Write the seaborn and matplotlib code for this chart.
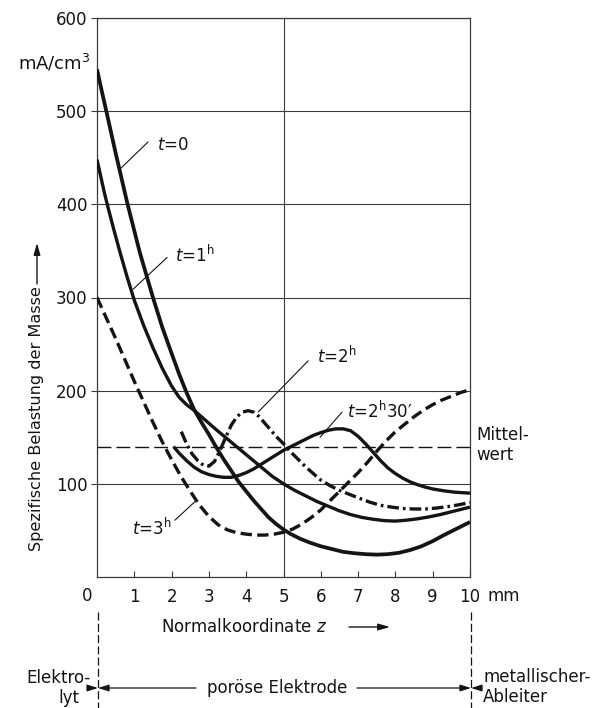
import matplotlib
matplotlib.use("Agg")
import matplotlib.pyplot as plt
from matplotlib.lines import Line2D
from matplotlib.patches import FancyArrowPatch
import seaborn as sns

# ---------------- data ----------------
z_t0 = [0.0, 0.12, 0.25, 0.5, 0.82, 1.15, 1.5, 1.75, 2.0, 2.2, 2.4, 2.6, 2.8, 3.0,
        3.2, 3.4, 3.6, 3.8, 4.0, 4.2, 4.4, 4.6, 4.8, 5.0, 5.2, 5.45, 5.7, 6.0,
        6.3, 6.6, 6.9, 7.2, 7.5, 7.8, 8.1, 8.4, 8.7, 9.0, 9.3, 9.6, 10.0]
y_t0 = [545, 523, 500, 455, 400, 348, 300, 268, 240, 218, 198, 180, 166, 153,
        139, 126, 114, 102, 92, 82, 73, 64, 57, 51, 46, 41, 37, 33,
        30, 27, 25.5, 24.5, 24, 24.5, 26, 29, 33, 38.5, 45, 51, 59]

z_t1 = [0.0, 0.1, 0.2, 0.3, 0.45, 0.6, 0.8, 1.0, 1.25, 1.5, 1.75, 2.0, 2.2, 2.4,
        2.6, 2.8, 3.0, 3.2, 3.5, 3.8, 4.1, 4.4, 4.7, 5.0, 5.3, 5.6, 5.9, 6.2,
        6.5, 6.8, 7.1, 7.4, 7.7, 8.0, 8.3, 8.6, 8.9, 9.2, 9.5, 9.75, 10.0]
y_t1 = [448, 430, 412, 396, 373, 351, 323, 297, 270, 246, 224, 205, 193, 185,
        179, 172, 165, 158, 148, 138, 128, 118, 108, 100, 93, 87, 81, 76,
        71, 67, 64, 62, 60.5, 60, 61, 62.5, 64.5, 67, 70, 72.5, 75]

z_t2 = [2.26, 2.4, 2.55, 2.7, 2.85, 3.0, 3.15, 3.3, 3.45, 3.6, 3.75, 3.9, 4.05,
        4.2, 4.35, 4.5, 4.65, 4.8, 5.0, 5.2, 5.4, 5.6, 5.8, 6.0, 6.25, 6.5,
        6.75, 7.0, 7.3, 7.6, 7.9, 8.2, 8.5, 8.8, 9.1, 9.4, 9.7, 10.0]
y_t2 = [156, 143, 132, 125, 120, 119, 124, 136, 150, 163, 172, 177, 178.5,
        177, 172, 165, 158, 151, 143, 134, 126, 118, 111, 104, 98, 93,
        89, 85, 80.5, 77, 75, 73.5, 73, 73, 74, 75.5, 77.5, 80]

z_t230 = [2.05, 2.2, 2.4, 2.6, 2.8, 3.0, 3.2, 3.4, 3.6, 3.8, 4.0, 4.2, 4.4, 4.6,
          4.8, 5.0, 5.2, 5.4, 5.6, 5.8, 6.0, 6.2, 6.4, 6.6, 6.8, 7.0, 7.2,
          7.4, 7.6, 7.8, 8.0, 8.2, 8.4, 8.6, 8.8, 9.0, 9.3, 9.6, 10.0]
y_t230 = [140, 133, 125, 118, 113, 110, 108, 107, 107, 109, 112, 116, 121, 126,
          131, 136, 140, 144, 148, 152, 155, 157.5, 159, 159, 157, 151, 143,
          134, 125, 117, 111, 106, 102, 99, 96.5, 94.5, 92.5, 91, 90]

z_t3 = [0.0, 0.25, 0.5, 0.75, 1.0, 1.25, 1.5, 1.75, 2.0, 2.25, 2.5, 2.75, 3.0,
        3.25, 3.5, 3.75, 4.0, 4.25, 4.5, 4.75, 5.0, 5.25, 5.5, 5.75, 6.0, 6.25,
        6.5, 6.75, 7.0, 7.25, 7.5, 7.75, 8.0, 8.25, 8.5, 8.75, 9.0, 9.25, 9.5,
        9.75, 10.0]
y_t3 = [300, 278, 256, 233, 210, 188, 166, 145, 126, 108, 92, 77, 65,
        56, 50.5, 47.5, 46, 45, 45, 46, 48, 51.5, 57, 64, 72, 82,
        92, 102, 112, 123, 135, 146, 156, 164, 172, 179, 185, 190, 194,
        198, 201]

z_mittel = [0.0, 10.0]
y_mittel = [140, 140]

x_ticks = [1, 2, 3, 4, 5, 6, 7, 8, 9, 10]
x_ticklabels = ["1", "2", "3", "4", "5", "6", "7", "8", "9", "10"]
y_ticks = [100, 200, 300, 400, 500, 600]
y_ticklabels = ["100", "200", "300", "400", "500", "600"]

# ---------------- figure ----------------
sns.set_theme(style="white")
plt.rcParams["font.family"] = ["DejaVu Sans"]
plt.rcParams["mathtext.fontset"] = "dejavusans"

W, H = 607, 708
fig = plt.figure(figsize=(W / 100, H / 100), dpi=100)
fig.patch.set_facecolor("white")


def fp(px, py):
    return (px / W, 1 - py / H)


ax_l, ax_r, ax_t, ax_b = 97, 470, 18, 577
ax = fig.add_axes([ax_l / W, 1 - ax_b / H, (ax_r - ax_l) / W, (ax_b - ax_t) / H])

ink = "#141414"
grid_c = "#3a3a3a"

ax.set_xlim(0, 10)
ax.set_ylim(0, 600)

for yv in y_ticks:
    ax.axhline(yv, color=grid_c, lw=0.8, zorder=1)
ax.axvline(5, color=grid_c, lw=0.8, zorder=1)

for s in ax.spines.values():
    s.set_color(grid_c)
    s.set_linewidth(0.9)

common = dict(ax=ax, color=ink, estimator=None, sort=False, legend=False, zorder=3)
sns.lineplot(x=z_mittel, y=y_mittel, lw=1.0, linestyle=(0, (10, 3.6)), **common)
sns.lineplot(x=z_t0, y=y_t0, lw=2.7, solid_capstyle="butt", solid_joinstyle="round", **common)
sns.lineplot(x=z_t1, y=y_t1, lw=2.4, solid_capstyle="butt", solid_joinstyle="round", **common)
sns.lineplot(x=z_t230, y=y_t230, lw=2.4, solid_capstyle="butt", solid_joinstyle="round", **common)
sns.lineplot(x=z_t2, y=y_t2, lw=2.4, linestyle=(0, (3.5, 1.2, 0.8, 1.2)), **common)
sns.lineplot(x=z_t3, y=y_t3, lw=2.4, linestyle=(0, (3.4, 1.6)), **common)

ax.set_xlabel("")
ax.set_ylabel("")
ax.set_xticks(x_ticks)
ax.set_xticklabels(x_ticklabels)
ax.set_yticks(y_ticks)
ax.set_yticklabels(y_ticklabels)
ax.tick_params(axis="x", direction="in", length=4, width=0.8, color=grid_c,
               pad=8, labelsize=12, labelcolor=ink, bottom=True)
ax.tick_params(axis="y", direction="out", length=4, width=0.8, color=grid_c,
               pad=3, labelsize=12, labelcolor=ink, left=True)

# curve labels with leader lines
fs = 12
lead = dict(color=ink, lw=0.8, zorder=4)
ax.plot([0.62, 1.37], [438, 467], **lead)
ax.text(1.61, 464, r"$t$=0", fontsize=fs, ha="left", va="center", color=ink)
ax.plot([0.97, 1.88], [309, 343], **lead)
ax.text(2.09, 345, r"$t$=1$^\mathrm{h}$", fontsize=fs, ha="left", va="center", color=ink)
ax.plot([4.32, 5.66], [177, 232], **lead)
ax.text(5.9, 237, r"$t$=2$^\mathrm{h}$", fontsize=fs, ha="left", va="center", color=ink)
ax.plot([5.98, 6.57], [150, 177], **lead)
ax.text(6.7, 178, r"$t$=2$^\mathrm{h}$30′", fontsize=fs, ha="left", va="center", color=ink)
ax.plot([2.09, 2.63], [61, 81], **lead)
ax.text(2.0, 52, r"$t$=3$^\mathrm{h}$", fontsize=fs, ha="right", va="center", color=ink)

ax.text(10.16, 142, "Mittel-\nwert", fontsize=fs, ha="left", va="center",
        color=ink, linespacing=1.15, clip_on=False)

# axis texts
fig.text(*fp(90, 63), r"mA/cm$^3$", fontsize=13, ha="right", va="center", color=ink)
fig.text(*fp(87, 596), "0", fontsize=12, ha="center", va="center", color=ink)
fig.text(*fp(487, 596), "mm", fontsize=12, ha="left", va="center", color=ink)

fig.text(*fp(37, 419), "Spezifische Belastung der Masse", fontsize=11.6,
         rotation=90, ha="center", va="center", color=ink)
arrow_kw = dict(arrowstyle="-|>,head_length=0.7,head_width=0.2", lw=1.0, color=ink,
                shrinkA=0, shrinkB=0, mutation_scale=10)
fig.add_artist(FancyArrowPatch(fp(37, 284), fp(37, 243),
               transform=fig.transFigure, **arrow_kw))

fig.text(*fp(161, 627), r"Normalkoordinate $z$", fontsize=12, ha="left",
         va="center", color=ink)
fig.add_artist(FancyArrowPatch(fp(349, 627), fp(390, 627),
               transform=fig.transFigure, **arrow_kw))

# bottom region description
for xp in (98, 471):
    fig.add_artist(Line2D([xp / W, xp / W], [1 - 612 / H, 0.0], transform=fig.transFigure,
                          color=ink, lw=0.9, linestyle=(0, (6.5, 2.5))))

yb = 688
small_kw = dict(arrowstyle="-|>,head_length=0.8,head_width=0.25", lw=0.9, color=ink,
                shrinkA=0, shrinkB=0, mutation_scale=8)
for a, b in [((196, yb), (98, yb)), ((357, yb), (471, yb)),
             ((88, yb), (98, yb)), ((482, yb), (471, yb))]:
    fig.add_artist(FancyArrowPatch(fp(*a), fp(*b), transform=fig.transFigure, **small_kw))

fig.text(*fp(277, yb), "poröse Elektrode", fontsize=12, ha="center", va="center", color=ink)
fig.text(*fp(91, 678), "Elektro-", fontsize=12, ha="right", va="center", color=ink)
fig.text(*fp(79, 698), "lyt", fontsize=12, ha="right", va="center", color=ink)
fig.text(*fp(483, 677), "metallischer-", fontsize=12, ha="left", va="center", color=ink)
fig.text(*fp(483, 697), "Ableiter", fontsize=12, ha="left", va="center", color=ink)

fig.savefig("out.png", dpi=100, facecolor="white")
